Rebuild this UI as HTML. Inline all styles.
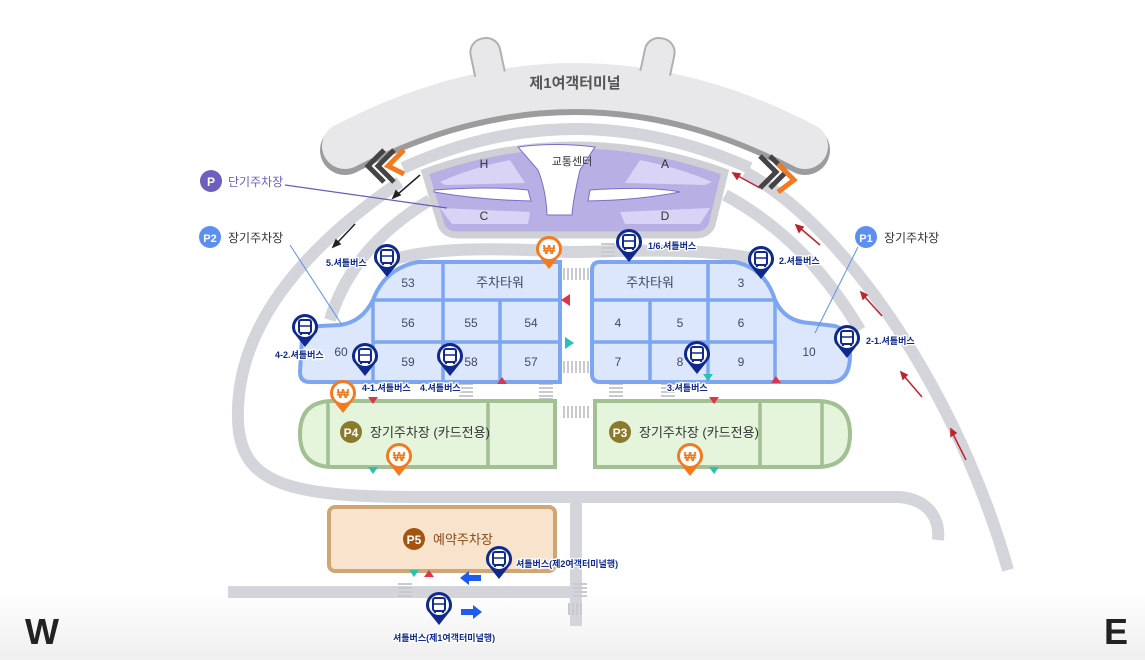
<!DOCTYPE html>
<html><head><meta charset="utf-8"><style>
html,body{margin:0;padding:0;background:#fff}
svg{display:block}
text{font-family:"Liberation Sans","Noto Sans CJK KR",sans-serif}
</style></head><body>
<svg width="1145" height="660" viewBox="0 0 1145 660" xmlns="http://www.w3.org/2000/svg">
<defs>
<linearGradient id="bg" x1="0" y1="0" x2="0" y2="1">
<stop offset="0" stop-color="#fff"/><stop offset="1" stop-color="#efeff0"/></linearGradient>
<g id="bus">
<path d="M-12,4 A13,13 0 1 1 12,4 L0,19 Z" fill="#0f2a8c"/>
<circle cx="0" cy="-1" r="10" fill="#fff"/>
<rect x="-6" y="-8" width="12" height="13" rx="2" fill="none" stroke="#0f2a8c" stroke-width="2"/>
<line x1="-6" y1="-2" x2="6" y2="-2" stroke="#0f2a8c" stroke-width="1.5"/>
<line x1="-4" y1="5" x2="-4" y2="7" stroke="#0f2a8c" stroke-width="2"/>
<line x1="4" y1="5" x2="4" y2="7" stroke="#0f2a8c" stroke-width="2"/>
</g>
<g id="won">
<path d="M-12,4 A13,13 0 1 1 12,4 L0,19 Z" fill="#f47a1f"/>
<circle cx="0" cy="-1" r="10" fill="#fff"/>
<text x="0" y="4" font-size="13" font-weight="bold" fill="#f47a1f" text-anchor="middle">₩</text>
</g>
</defs>
<rect x="0" y="590" width="1145" height="70" fill="url(#bg)"/>

<g fill="none" stroke="#d4d5da" stroke-width="12" stroke-linecap="butt">
<path d="M400,182 C300,250 235,330 238,420 C240,485 290,497 420,497 L900,497 C930,500 940,520 938,540"/>
<path d="M745,172 C850,230 960,400 1008,570"/>
<path d="M725,195 C790,230 830,280 860,330"/>
<path d="M430,200 C380,230 345,270 330,320"/>
<path d="M385,262 C420,250 470,246 570,252 C620,252 700,245 770,262"/>
<path d="M576,497 L576,626"/>
<path d="M228,592 L578,592"/>
<path d="M403,168 Q575,90 750,168"/>
</g>

<path d="M345,150 Q575,30 805,150" fill="none" stroke="#9c9c9e" stroke-width="50" stroke-linecap="round"/>
<path d="M345,146 Q575,26 805,146" fill="none" stroke="#e8e8ea" stroke-width="46" stroke-linecap="round"/>
<rect x="472" y="38" width="30" height="50" rx="14" fill="#e8e8ea" stroke="#b0b0b2" stroke-width="2" transform="rotate(-12 487 60)"/>
<rect x="643" y="38" width="30" height="50" rx="14" fill="#e8e8ea" stroke="#b0b0b2" stroke-width="2" transform="rotate(12 658 60)"/>
<path d="M345,146 Q575,26 805,146" fill="none" stroke="#e8e8ea" stroke-width="40" stroke-linecap="round"/>
<text x="575" y="88" font-size="15" font-weight="bold" fill="#555" text-anchor="middle">제1여객터미널</text>

<g fill="none" stroke-width="5">
<path d="M384,150 L368,166 L384,182" stroke="#444"/><path d="M394,150 L378,166 L394,182" stroke="#444"/><path d="M404,150 L388,166 L404,174" stroke="#f47a1f"/>
<path d="M760,156 L776,172 L760,188" stroke="#444"/><path d="M770,156 L786,172 L770,188" stroke="#444"/><path d="M778,164 L794,180 L778,192" stroke="#f47a1f"/>
</g>

<path d="M425,172 Q575,118 725,172 L712,225 Q708,235 695,235 L458,235 Q445,235 441,225 Z" fill="#b8b0e4" stroke="#cfd0d6" stroke-width="7"/>
<path d="M440,182 Q470,168 510,160 L525,183 L445,185 Z M640,160 Q680,168 712,182 L705,185 L625,183 Z" fill="#d9d4f5"/>
<path d="M440,208 L530,212 L528,224 L452,224 Z M620,212 L710,208 L700,224 L625,224 Z" fill="#d9d4f5"/>
<path d="M518,147 Q555,142 595,147 L580,170 Q573,200 572,215 L547,215 Q546,190 538,170 Z" fill="#fff" stroke="#7a6ec8" stroke-width="1"/>
<path d="M434,190 Q490,186 528,190 L531,201 Q480,200 434,192 Z" fill="#fff" stroke="#7a6ec8" stroke-width="1"/>
<path d="M590,190 Q650,186 680,192 Q640,200 588,201 Z" fill="#fff" stroke="#7a6ec8" stroke-width="1"/>
<g font-size="12" fill="#333" text-anchor="middle">
<text x="484" y="168">H</text><text x="665" y="168">A</text><text x="484" y="220">C</text><text x="665" y="220">D</text>
<text x="572" y="165" font-size="11">교통센터</text></g>

<g stroke="#222" stroke-width="1.5" fill="#222">
<line x1="420" y1="175" x2="398" y2="194"/><path d="M393,198 l3,-7 l4,4z"/>
<line x1="355" y1="224" x2="337" y2="243"/><path d="M333,247 l3,-7 l4,4z"/></g>
<g stroke="#c0222e" stroke-width="1.5" fill="#c0222e">
<line x1="760" y1="188" x2="738" y2="176"/><path d="M733,173 l7,1 l-3,5z"/>
<line x1="820" y1="245" x2="800" y2="228"/><path d="M796,225 l7,2 l-4,5z"/>
<line x1="882" y1="316" x2="864" y2="296"/><path d="M861,292 l6,3 l-4,4z"/>
<line x1="922" y1="397" x2="904" y2="376"/><path d="M901,372 l6,3 l-4,4z"/>
<line x1="966" y1="460" x2="953" y2="434"/><path d="M951,429 l5,4 l-5,3z"/></g>

<g fill="#c9cacf">
<g id="vs"><rect x="563" y="268" width="2" height="12"/><rect x="567" y="268" width="2" height="12"/><rect x="571" y="268" width="2" height="12"/><rect x="575" y="268" width="2" height="12"/><rect x="579" y="268" width="2" height="12"/><rect x="583" y="268" width="2" height="12"/><rect x="587" y="268" width="2" height="12"/></g>
<use href="#vs" y="93"/><use href="#vs" y="138"/>
<g id="hs"><rect x="601" y="243" width="14" height="2"/><rect x="601" y="247" width="14" height="2"/><rect x="601" y="251" width="14" height="2"/><rect x="601" y="255" width="14" height="2"/></g>
<use href="#hs" x="-62" y="140"/><use href="#hs" x="-142" y="140"/><use href="#hs" x="-62" y="155"/><use href="#hs" x="8" y="140"/><use href="#hs" x="60" y="140"/>
<use href="#hs" x="-203" y="340"/><use href="#hs" x="-28" y="340"/>
<rect x="568" y="603" width="2" height="12"/><rect x="572" y="603" width="2" height="12"/><rect x="576" y="603" width="2" height="12"/><rect x="580" y="603" width="2" height="12"/>
</g>

<path d="M418,262 L560,262 L560,382 L310,382 Q300,382 300,372 L302,338 Q305,326 320,326 L340,325 Q362,322 373,300 Q385,268 418,262 Z" fill="#dde7fb" stroke="#7da6f2" stroke-width="4"/>
<g stroke="#7da6f2" stroke-width="3.5">
<line x1="443" y1="262" x2="443" y2="382"/><line x1="373" y1="300" x2="373" y2="382"/><line x1="500" y1="300" x2="500" y2="382"/>
<line x1="373" y1="300" x2="560" y2="300"/><line x1="373" y1="342" x2="560" y2="342"/></g>
<path d="M600,262 L735,262 Q765,268 775,300 Q785,322 810,323 L835,326 Q850,330 850,355 Q850,382 830,382 L600,382 Q592,382 592,374 L592,270 Q592,262 600,262 Z" fill="#dde7fb" stroke="#7da6f2" stroke-width="4"/>
<g stroke="#7da6f2" stroke-width="3.5">
<line x1="708" y1="262" x2="708" y2="382"/><line x1="650" y1="300" x2="650" y2="382"/><line x1="775" y1="300" x2="775" y2="382"/>
<line x1="592" y1="300" x2="775" y2="300"/><line x1="592" y1="342" x2="775" y2="342"/></g>
<g font-size="12" fill="#3b4a6b" text-anchor="middle">
<text x="408" y="287">53</text><text x="500" y="287" font-size="13">주차타워</text>
<text x="408" y="327">56</text><text x="471" y="327">55</text><text x="531" y="327">54</text>
<text x="408" y="366">59</text><text x="471" y="366">58</text><text x="531" y="366">57</text><text x="341" y="356">60</text>
<text x="650" y="287" font-size="13">주차타워</text><text x="741" y="287">3</text>
<text x="618" y="327">4</text><text x="680" y="327">5</text><text x="741" y="327">6</text>
<text x="618" y="366">7</text><text x="680" y="366">8</text><text x="741" y="366">9</text><text x="809" y="356">10</text></g>

<path d="M333,401 L555,401 L555,467 L333,467 Q300,467 300,434 Q300,401 333,401 Z" fill="#e4f5dc" stroke="#a3bf94" stroke-width="4"/>
<line x1="328" y1="401" x2="328" y2="467" stroke="#a3bf94" stroke-width="3.5"/><line x1="488" y1="401" x2="488" y2="467" stroke="#a3bf94" stroke-width="3.5"/>
<path d="M595,401 L817,401 Q850,401 850,434 Q850,467 817,467 L595,467 Z" fill="#e4f5dc" stroke="#a3bf94" stroke-width="4"/>
<line x1="760" y1="401" x2="760" y2="467" stroke="#a3bf94" stroke-width="3.5"/><line x1="822" y1="401" x2="822" y2="467" stroke="#a3bf94" stroke-width="3.5"/>
<circle cx="351" cy="432" r="11" fill="#8b7a2c"/><text x="351" y="437" font-size="12" font-weight="bold" fill="#fff" text-anchor="middle">P4</text>
<text x="370" y="437" font-size="13" fill="#333">장기주차장 (카드전용)</text>
<circle cx="620" cy="432" r="11" fill="#8b7a2c"/><text x="620" y="437" font-size="12" font-weight="bold" fill="#fff" text-anchor="middle">P3</text>
<text x="639" y="437" font-size="13" fill="#333">장기주차장 (카드전용)</text>

<rect x="329" y="507" width="226" height="64" rx="6" fill="#f8e4cc" stroke="#d0a677" stroke-width="4"/>
<circle cx="414" cy="539" r="11" fill="#a3540f"/><text x="414" y="544" font-size="12" font-weight="bold" fill="#fff" text-anchor="middle">P5</text>
<text x="433" y="544" font-size="13" fill="#8a4a14">예약주차장</text>

<g fill="#e0344a"><path d="M561,300 l9,-6 v12z"/><path d="M502,377 l-5,7 h10z"/><path d="M373,404 l-5,-7 h10z"/><path d="M714,404 l-5,-7 h10z"/><path d="M776,376 l-5,7 h10z"/><path d="M429,570 l-5,7 h10z"/></g>
<g fill="#25c4b1"><path d="M574,343 l-9,-6 v12z"/><path d="M708,381 l-5,-7 h10z"/><path d="M373,474 l-5,-7 h10z"/><path d="M714,474 l-5,-7 h10z"/><path d="M414,577 l-5,-7 h10z"/></g>

<path d="M460,578 l9,-7 v4 h12 v6 h-12 v4z" fill="#1e5cf0"/>
<path d="M482,612 l-9,-7 v4 h-12 v6 h12 v4z" fill="#1e5cf0"/>

<use href="#bus" x="387" y="258"/><use href="#bus" x="629" y="243"/><use href="#bus" x="761" y="260"/>
<use href="#bus" x="305" y="328"/><use href="#bus" x="365" y="357"/><use href="#bus" x="450" y="357"/>
<use href="#bus" x="697" y="355"/><use href="#bus" x="847" y="339"/><use href="#bus" x="499" y="560"/><use href="#bus" x="439" y="606"/>
<use href="#won" x="549" y="250"/><use href="#won" x="343" y="394"/><use href="#won" x="399" y="457"/><use href="#won" x="690" y="457"/>
<g font-size="9" font-weight="bold" fill="#0f2a8c" stroke="#fff" stroke-width="2.5" paint-order="stroke">
<text x="326" y="266">5.셔틀버스</text><text x="648" y="249">1/6.셔틀버스</text><text x="779" y="264">2.셔틀버스</text>
<text x="275" y="358">4-2.셔틀버스</text><text x="362" y="391">4-1.셔틀버스</text><text x="420" y="391">4.셔틀버스</text>
<text x="667" y="391">3.셔틀버스</text><text x="866" y="344">2-1.셔틀버스</text>
<text x="516" y="567">셔틀버스(제2여객터미널행)</text><text x="393" y="641">셔틀버스(제1여객터미널행)</text></g>

<line x1="285" y1="185" x2="447" y2="208" stroke="#6a5cb8" stroke-width="1.3"/>
<line x1="290" y1="245" x2="342" y2="325" stroke="#5b8ff0" stroke-width="1"/>
<line x1="858" y1="247" x2="815" y2="333" stroke="#5b8ff0" stroke-width="1"/>
<circle cx="211" cy="181" r="11" fill="#6c5fbd"/><text x="211" y="186" font-size="12" font-weight="bold" fill="#fff" text-anchor="middle">P</text>
<text x="228" y="186" font-size="12" fill="#6c5fbd">단기주차장</text>
<circle cx="210" cy="237" r="11" fill="#5b8ff0"/><text x="210" y="242" font-size="11" font-weight="bold" fill="#fff" text-anchor="middle">P2</text>
<text x="228" y="242" font-size="12" fill="#333">장기주차장</text>
<circle cx="866" cy="237" r="11" fill="#5b8ff0"/><text x="866" y="242" font-size="11" font-weight="bold" fill="#fff" text-anchor="middle">P1</text>
<text x="884" y="242" font-size="12" fill="#333">장기주차장</text>

<text x="42" y="644" font-size="36" font-weight="bold" fill="#222" text-anchor="middle">W</text>
<text x="1116" y="644" font-size="36" font-weight="bold" fill="#222" text-anchor="middle">E</text>
</svg>
</body></html>
